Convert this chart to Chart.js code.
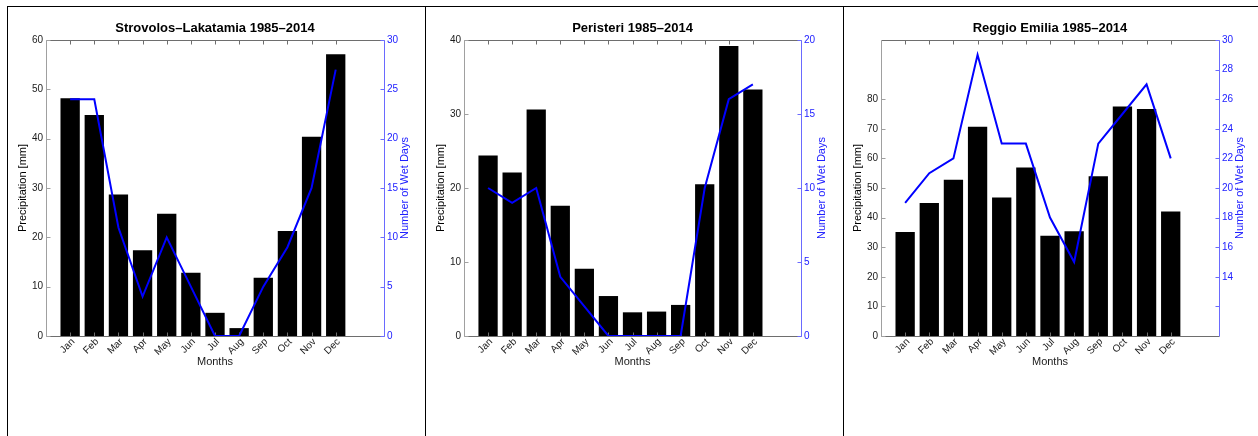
<!DOCTYPE html>
<html>
<head>
<meta charset="utf-8">
<script src="https://cdn.jsdelivr.net/npm/chart.js@4.4.1/dist/chart.umd.min.js"></script>
<style>
  html, body { margin: 0; padding: 0; background: #fff; }
  body { width: 1258px; height: 436px; position: relative; overflow: hidden; }
  .rule { position: absolute; background: #000; }
  canvas { position: absolute; }
</style>
</head>
<body>
<div class="rule" style="left:7px;top:6px;width:1251px;height:1px"></div>
<div class="rule" style="left:7px;top:6px;width:1px;height:430px"></div>
<div class="rule" style="left:425px;top:6px;width:1px;height:430px"></div>
<div class="rule" style="left:843px;top:6px;width:1px;height:430px"></div>
<canvas id="c1" width="417" height="429" style="left:8px;top:7px"></canvas>
<canvas id="c2" width="417" height="429" style="left:426px;top:7px"></canvas>
<canvas id="c3" width="414" height="429" style="left:844px;top:7px"></canvas>
<script>
// Monthly climatology 1985–2014: mean precipitation (bars) and wet days (line)
const months = ['Jan', 'Feb', 'Mar', 'Apr', 'May', 'Jun', 'Jul', 'Aug', 'Sep', 'Oct', 'Nov', 'Dec'];

const strovolosPrecip = [48.2, 44.8, 28.7, 17.4, 24.8, 12.8, 4.7, 1.6, 11.8, 21.3, 40.4, 57.1];
const strovolosWetDays = [24, 24, 11, 4, 10, 5, 0, 0, 5, 9, 15, 27];
const strovolosPrecipTicks = [0, 10, 20, 30, 40, 50, 60];
const strovolosWetTicks = [0, 5, 10, 15, 20, 25, 30];
const strovolosWetLabels = ['0', '5', '10', '15', '20', '25', '30'];

const peristeriPrecip = [24.4, 22.1, 30.6, 17.6, 9.1, 5.4, 3.2, 3.3, 4.2, 20.5, 39.2, 33.3];
const peristeriWetDays = [10, 9, 10, 4, 2, 0, 0, 0, 0, 10, 16, 17];
const peristeriPrecipTicks = [0, 10, 20, 30, 40];
const peristeriWetTicks = [0, 5, 10, 15, 20];
const peristeriWetLabels = ['0', '5', '10', '15', '20'];

const reggioPrecip = [35.1, 44.9, 52.8, 70.7, 46.8, 56.9, 33.9, 35.4, 54.0, 77.5, 76.7, 42.1];
const reggioWetDays = [19, 21, 22, 29, 23, 23, 18, 15, 23, 25, 27, 22];
const reggioPrecipTicks = [0, 10, 20, 30, 40, 50, 60, 70, 80];
const reggioWetTicks = [12, 14, 16, 18, 20, 22, 24, 26, 28, 30];
const reggioWetLabels = ['', '14', '16', '18', '20', '22', '24', '26', '28', '30'];

const FONT = "'Liberation Sans', Arial, Helvetica, sans-serif";
const BLUE = '#0000ff';
const BLUE_TEXT = '#2020ff';
const BLUE_AXIS = '#6a6aff';
const INK = '#1a1a1a';

// Axis box, inward tick marks, title and right-hand axis label,
// drawn after the bars and before the line
const axesPlugin = {
  id: 'matlabAxes',
  afterDatasetDraw(chart, args) {
    if (args.index !== 0) return;
    const { ctx, chartArea: a } = chart;
    const o = chart.options.plugins.matlabAxes;
    const x = chart.scales.x, yl = chart.scales.y, yr = chart.scales.y2;
    const T = 4;
    ctx.save();
    ctx.lineWidth = 1;
    const L = Math.round(a.left) + 0.5, R = Math.round(a.right) + 0.5;
    const top = Math.round(a.top) + 0.5, bot = Math.round(a.bottom) + 0.5;
    // top and bottom edges
    ctx.strokeStyle = '#6e6e6e';
    ctx.beginPath();
    ctx.moveTo(L, top); ctx.lineTo(R, top);
    ctx.moveTo(L, bot); ctx.lineTo(R, bot);
    x.ticks.forEach(t => {
      const px = Math.round(x.getPixelForValue(t.value)) + 0.5;
      ctx.moveTo(px, top); ctx.lineTo(px, top + T);
      ctx.moveTo(px, bot); ctx.lineTo(px, bot - T);
    });
    ctx.stroke();
    // left axis
    ctx.strokeStyle = '#a0a0a0';
    ctx.beginPath();
    ctx.moveTo(L, top); ctx.lineTo(L, bot);
    yl.ticks.forEach(t => {
      const py = Math.round(yl.getPixelForValue(t.value)) + 0.5;
      ctx.moveTo(L, py); ctx.lineTo(L + T, py);
    });
    ctx.stroke();
    // right axis
    ctx.strokeStyle = BLUE_AXIS;
    ctx.beginPath();
    ctx.moveTo(R, top); ctx.lineTo(R, bot);
    yr.ticks.forEach(t => {
      const py = Math.round(yr.getPixelForValue(t.value)) + 0.5;
      ctx.moveTo(R, py); ctx.lineTo(R - T, py);
    });
    ctx.stroke();
    // title
    ctx.fillStyle = '#000';
    ctx.font = 'bold 13px ' + FONT;
    ctx.textAlign = 'center';
    ctx.textBaseline = 'middle';
    ctx.fillText(o.title, (a.left + a.right) / 2, a.top - 12);
    // right axis label, reading bottom to top
    ctx.save();
    ctx.translate(a.right + 20.5, (a.top + a.bottom) / 2);
    ctx.rotate(-Math.PI / 2);
    ctx.fillStyle = BLUE_TEXT;
    ctx.font = '11px ' + FONT;
    ctx.fillText(o.rightTitle, 0, 0);
    ctx.restore();
    ctx.restore();
  }
};

function makePanel(id, cfg) {
  const canvas = document.getElementById(id);
  const lh = 11 * 1.2;
  const leftPad = (cfg.leftWidth - 23.5) - lh / 2;
  const tickFont = { family: FONT, size: 10 };
  const titleFont = { family: FONT, size: 11 };

  return new Chart(canvas, {
    type: 'bar',
    data: {
      datasets: [
        {
          type: 'bar',
          label: 'Precipitation [mm]',
          data: cfg.precip.map((v, i) => ({ x: i + 1, y: v })),
          backgroundColor: '#000',
          borderWidth: 0,
          barPercentage: 0.8,
          categoryPercentage: 1,
          yAxisID: 'y',
          order: 1
        },
        {
          type: 'line',
          label: 'Number of Wet Days',
          data: cfg.wet.map((v, i) => ({ x: i + 1, y: v })),
          borderColor: BLUE,
          borderWidth: 2,
          pointRadius: 0,
          tension: 0,
          fill: false,
          yAxisID: 'y2',
          order: 0
        }
      ]
    },
    options: {
      responsive: false,
      animation: false,
      devicePixelRatio: 1,
      layout: { padding: { top: 33, bottom: 66, left: 0, right: 0 } },
      plugins: {
        legend: { display: false },
        tooltip: { enabled: false },
        matlabAxes: { title: cfg.title, rightTitle: 'Number of Wet Days' }
      },
      scales: {
        x: {
          type: 'linear',
          min: 0,
          max: 14,
          offset: false,
          grid: { display: false, drawTicks: false },
          border: { display: false },
          afterBuildTicks: s => { s.ticks = months.map((m, i) => ({ value: i + 1 })); },
          afterFit: s => { s.height = 34; },
          ticks: {
            autoSkip: false,
            maxRotation: 45,
            minRotation: 45,
            padding: 0,
            labelOffset: 3,
            color: INK,
            font: tickFont,
            callback: v => months[v - 1]
          },
          title: {
            display: true,
            text: 'Months',
            color: INK,
            font: titleFont,
            padding: { top: 0, bottom: 1 }
          }
        },
        y: {
          position: 'left',
          min: cfg.leftRange[0],
          max: cfg.leftRange[1],
          grid: { display: false, drawTicks: false },
          border: { display: false },
          afterBuildTicks: s => { s.ticks = cfg.leftTicks.map(v => ({ value: v })); },
          afterFit: s => { s.width = cfg.leftWidth; },
          ticks: { padding: 3, color: INK, font: tickFont },
          title: {
            display: true,
            text: 'Precipitation [mm]',
            color: '#000',
            font: titleFont,
            padding: { top: leftPad, bottom: 0 }
          }
        },
        y2: {
          position: 'right',
          min: cfg.rightRange[0],
          max: cfg.rightRange[1],
          grid: { display: false, drawTicks: false },
          border: { display: false },
          afterBuildTicks: s => { s.ticks = cfg.rightTicks.map(v => ({ value: v })); },
          afterFit: s => { s.width = cfg.rightWidth; },
          ticks: {
            padding: 3,
            color: BLUE_TEXT,
            font: tickFont,
            callback: (v) => cfg.rightLabels[cfg.rightTicks.indexOf(v)]
          },
          title: { display: false }
        }
      }
    },
    plugins: [axesPlugin]
  });
}

makePanel('c1', {
  title: 'Strovolos–Lakatamia 1985–2014',
  precip: strovolosPrecip, wet: strovolosWetDays,
  leftRange: [0, 60], rightRange: [0, 30],
  leftTicks: strovolosPrecipTicks, rightTicks: strovolosWetTicks, rightLabels: strovolosWetLabels,
  leftWidth: 38, rightWidth: 41
});
makePanel('c2', {
  title: 'Peristeri 1985–2014',
  precip: peristeriPrecip, wet: peristeriWetDays,
  leftRange: [0, 40], rightRange: [0, 20],
  leftTicks: peristeriPrecipTicks, rightTicks: peristeriWetTicks, rightLabels: peristeriWetLabels,
  leftWidth: 38, rightWidth: 42
});
makePanel('c3', {
  title: 'Reggio Emilia 1985–2014',
  precip: reggioPrecip, wet: reggioWetDays,
  leftRange: [0, 100], rightRange: [10, 30],
  leftTicks: reggioPrecipTicks, rightTicks: reggioWetTicks, rightLabels: reggioWetLabels,
  leftWidth: 37, rightWidth: 39
});
</script>
</body>
</html>
